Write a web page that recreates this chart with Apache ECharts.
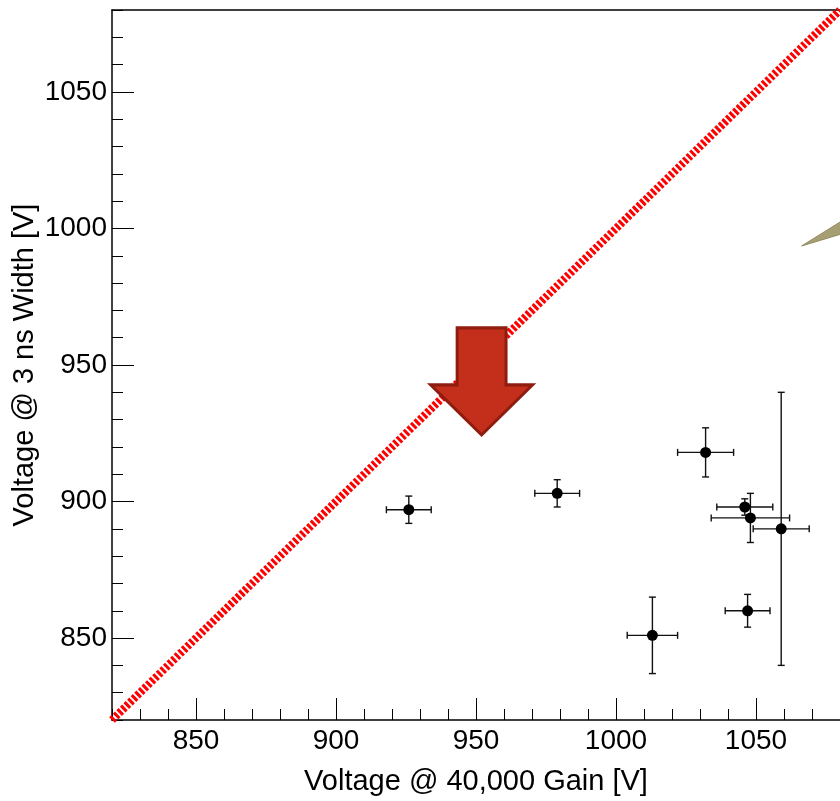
<!DOCTYPE html>
<html>
<head>
    <meta charset="UTF-8"/>
    <script src="https://cdn.jsdelivr.net/npm/echarts@6/dist/echarts.min.js"></script>
    <title>Voltage</title>
    <style>
        html, body {margin: 0; padding: 0; background: #fff;}
        #main {width: 840px; height: 801px;}
    </style>
</head>
<body>
<div id="main"></div>
<script type="text/javascript">
    // measured points (voltage @ 40,000 gain vs voltage @ 3 ns width)
    var gainV = [926, 979, 1032, 1046, 1048, 1059, 1047, 1013];
    var widthV = [897, 903, 918, 898, 894, 890, 860, 851];
    var gainErr = [8, 8, 10, 10, 14, 10, 8, 9];
    var widthErr = [5, 5, 9, 3, 9, 50, 6, 14];

    var axisMin = 820, axisMax = 1080;
    var majorTicks = [850, 900, 950, 1000, 1050];
    var diagonal = [[820, 820], [1080, 1080]];

    // annotations, placed in data space
    var arrowAt = [952, 944];
    var wedge = [[1066.3, 993.6], [1092, 1010], [1092, 1001.5]];

    var font = 'Liberation Sans, Arial, Helvetica, sans-serif';
    var pts = [];
    for (var i = 0; i < gainV.length; i++) {
        pts.push([gainV[i], widthV[i], gainErr[i], widthErr[i]]);
    }

    function minorAxis(pos) {
        return {
            type: 'value', position: pos, min: axisMin, max: axisMax, interval: 10,
            axisLine: {show: true, onZero: false, lineStyle: {color: '#000', width: 1.5}},
            axisTick: {show: true, inside: true, length: 11, lineStyle: {color: '#000', width: 1}},
            axisLabel: {show: false},
            splitLine: {show: false}
        };
    }
    function majorAxis(pos, name, gap) {
        return {
            type: 'value', position: pos, min: axisMin, max: axisMax,
            name: name, nameLocation: 'middle', nameGap: gap, nameMoveOverlap: false,
            nameTextStyle: {fontSize: 29, fontFamily: font, color: '#000'},
            axisLine: {show: false, onZero: false},
            axisTick: {show: true, inside: true, length: 22, customValues: majorTicks,
                lineStyle: {color: '#000', width: 1}},
            axisLabel: {show: true, customValues: majorTicks, fontSize: 28, fontFamily: font,
                color: '#000', margin: pos === 'left' ? 5 : 7,
                formatter: function (v) { return String(v); }},
            splitLine: {show: false}
        };
    }

    var myChart = echarts.init(document.getElementById('main'));
    var topAxis = minorAxis('top');
    topAxis.axisTick = {show: false};

    var option = {
        animation: false,
        grid: {left: 112, top: 10, right: 0, bottom: 81, containLabel: false, outerBoundsMode: 'none'},
        xAxis: [minorAxis('bottom'), majorAxis('bottom', 'Voltage @ 40,000 Gain [V]', 47), topAxis],
        yAxis: [minorAxis('left'), majorAxis('left', 'Voltage @ 3 ns Width [V]', 73)],
        series: [
            {
                type: 'line', data: diagonal, symbol: 'none', z: 2,
                lineStyle: {color: '#ff0000', width: 8, type: [3, 2], cap: 'butt'}
            },
            {
                type: 'custom', z: 3,
                data: [wedge],
                renderItem: function (params, api) {
                    var p = wedge.map(function (d) { return api.coord(d); });
                    return {
                        type: 'polygon', shape: {points: p},
                        style: {fill: '#a79f74', stroke: '#948b5f', lineWidth: 1}
                    };
                }
            },
            {
                type: 'scatter', z: 4, data: [arrowAt],
                symbol: 'path://M27,0 L75,0 L75,57 L101,57 L51,107 L1,57 L27,57 Z',
                symbolSize: [102, 107], symbolKeepAspect: false,
                itemStyle: {color: '#c32f1b', borderColor: '#8e1d10', borderWidth: 3, opacity: 1},
                silent: true
            },
            {
                type: 'custom', z: 5, data: pts,
                renderItem: function (params, api) {
                    var x = api.value(0), y = api.value(1), ex = api.value(2), ey = api.value(3);
                    var l = api.coord([x - ex, y]), r = api.coord([x + ex, y]);
                    var b = api.coord([x, y - ey]), t = api.coord([x, y + ey]);
                    var c = 3.5;
                    var st = {stroke: '#111', lineWidth: 1.4};
                    function ln(x1, y1, x2, y2) {
                        return {type: 'line', shape: {x1: x1, y1: y1, x2: x2, y2: y2}, style: st};
                    }
                    return {
                        type: 'group',
                        children: [
                            ln(l[0], l[1], r[0], r[1]),
                            ln(l[0], l[1] - c, l[0], l[1] + c),
                            ln(r[0], r[1] - c, r[0], r[1] + c),
                            ln(b[0], b[1], t[0], t[1]),
                            ln(b[0] - c, b[1], b[0] + c, b[1]),
                            ln(t[0] - c, t[1], t[0] + c, t[1])
                        ]
                    };
                }
            },
            {
                type: 'scatter', z: 6, data: pts.map(function (p) { return [p[0], p[1]]; }),
                symbol: 'circle', symbolSize: 11,
                itemStyle: {color: '#000', opacity: 1}
            }
        ]
    };
    myChart.setOption(option);
</script>
</body>
</html>
